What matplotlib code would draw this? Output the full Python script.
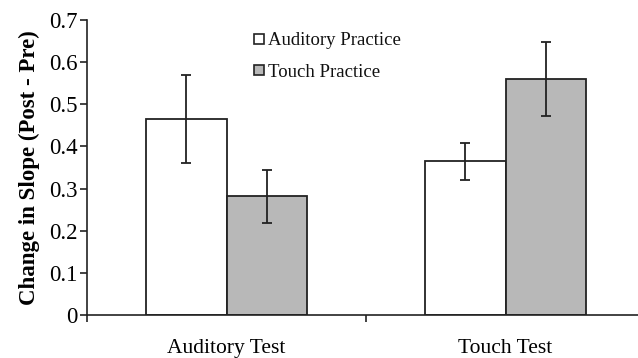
import matplotlib
matplotlib.use("Agg")
import matplotlib.pyplot as plt
import numpy as np

categories = ["Auditory Test", "Touch Test"]
series_names = ["Auditory Practice", "Touch Practice"]
auditory_practice = [0.465, 0.365]
auditory_err = [0.104, 0.044]
touch_practice = [0.282, 0.560]
touch_err = [0.063, 0.087]
yticks = [0, 0.1, 0.2, 0.3, 0.4, 0.5, 0.6, 0.7]
ytick_labels = ["0", "0.1", "0.2", "0.3", "0.4", "0.5", "0.6", "0.7"]

plt.rcParams['font.family'] = ['Liberation Serif', 'DejaVu Serif']

W, H = 638, 358
fig = plt.figure(figsize=(W / 100, H / 100), dpi=100)
ax = fig.add_axes([87 / W, 43 / H, 558 / W, 295 / H])

x = np.arange(len(categories))
bw = 0.287
edge = '#222222'
gray = '#b8b8b8'
ax.bar(x - bw / 2, auditory_practice, bw, color='white', edgecolor=edge, linewidth=1.3, zorder=2)
ax.bar(x + bw / 2, touch_practice, bw, color=gray, edgecolor=edge, linewidth=1.3, zorder=2)
ax.errorbar(x - bw / 2, auditory_practice, yerr=auditory_err, fmt='none', ecolor=edge,
            elinewidth=1.3, capsize=3.5, capthick=1.3, zorder=3)
ax.errorbar(x + bw / 2, touch_practice, yerr=touch_err, fmt='none', ecolor=edge,
            elinewidth=1.3, capsize=3.5, capthick=1.3, zorder=3)

ax.set_xlim(-0.5, 1.5)
ax.set_ylim(0, 0.7)
ax.set_yticks(yticks)
ax.set_yticklabels(ytick_labels, fontsize=16.5)
ax.set_xticks([-0.5, 0.5, 1.5])
ax.set_xticklabels([])
ax.set_xticks(x, minor=True)
ax.set_xticklabels(categories, minor=True, fontsize=15.5)
ax.tick_params(axis='x', which='minor', length=0, pad=17.5)
ax.tick_params(axis='x', which='major', direction='out', length=5, width=1.2, color=edge)
ax.tick_params(axis='y', direction='out', length=5, width=1.2, color=edge, pad=2)

for s in ['top', 'right']:
    ax.spines[s].set_visible(False)
for s in ['left', 'bottom']:
    ax.spines[s].set_linewidth(1.2)
    ax.spines[s].set_color(edge)

ax.set_ylabel("Change in Slope (Post - Pre)", fontsize=16.5, fontweight='bold', labelpad=6)

# legend drawn manually
leg_marker_y = [0.937, 0.830]
leg_text_y = [0.929, 0.823]
for name, fc, my, ty in zip(series_names, ['white', gray], leg_marker_y, leg_text_y):
    ax.plot([0.308], [my], marker='s', markersize=6.5, markerfacecolor=fc,
            markeredgecolor=edge, markeredgewidth=1.2, linestyle='none',
            transform=ax.transAxes, clip_on=False, zorder=5)
    ax.text(0.3244, ty, name, transform=ax.transAxes, fontsize=13.5,
            ha='left', va='center', color='#111111')

fig.savefig("out.png", dpi=100)
